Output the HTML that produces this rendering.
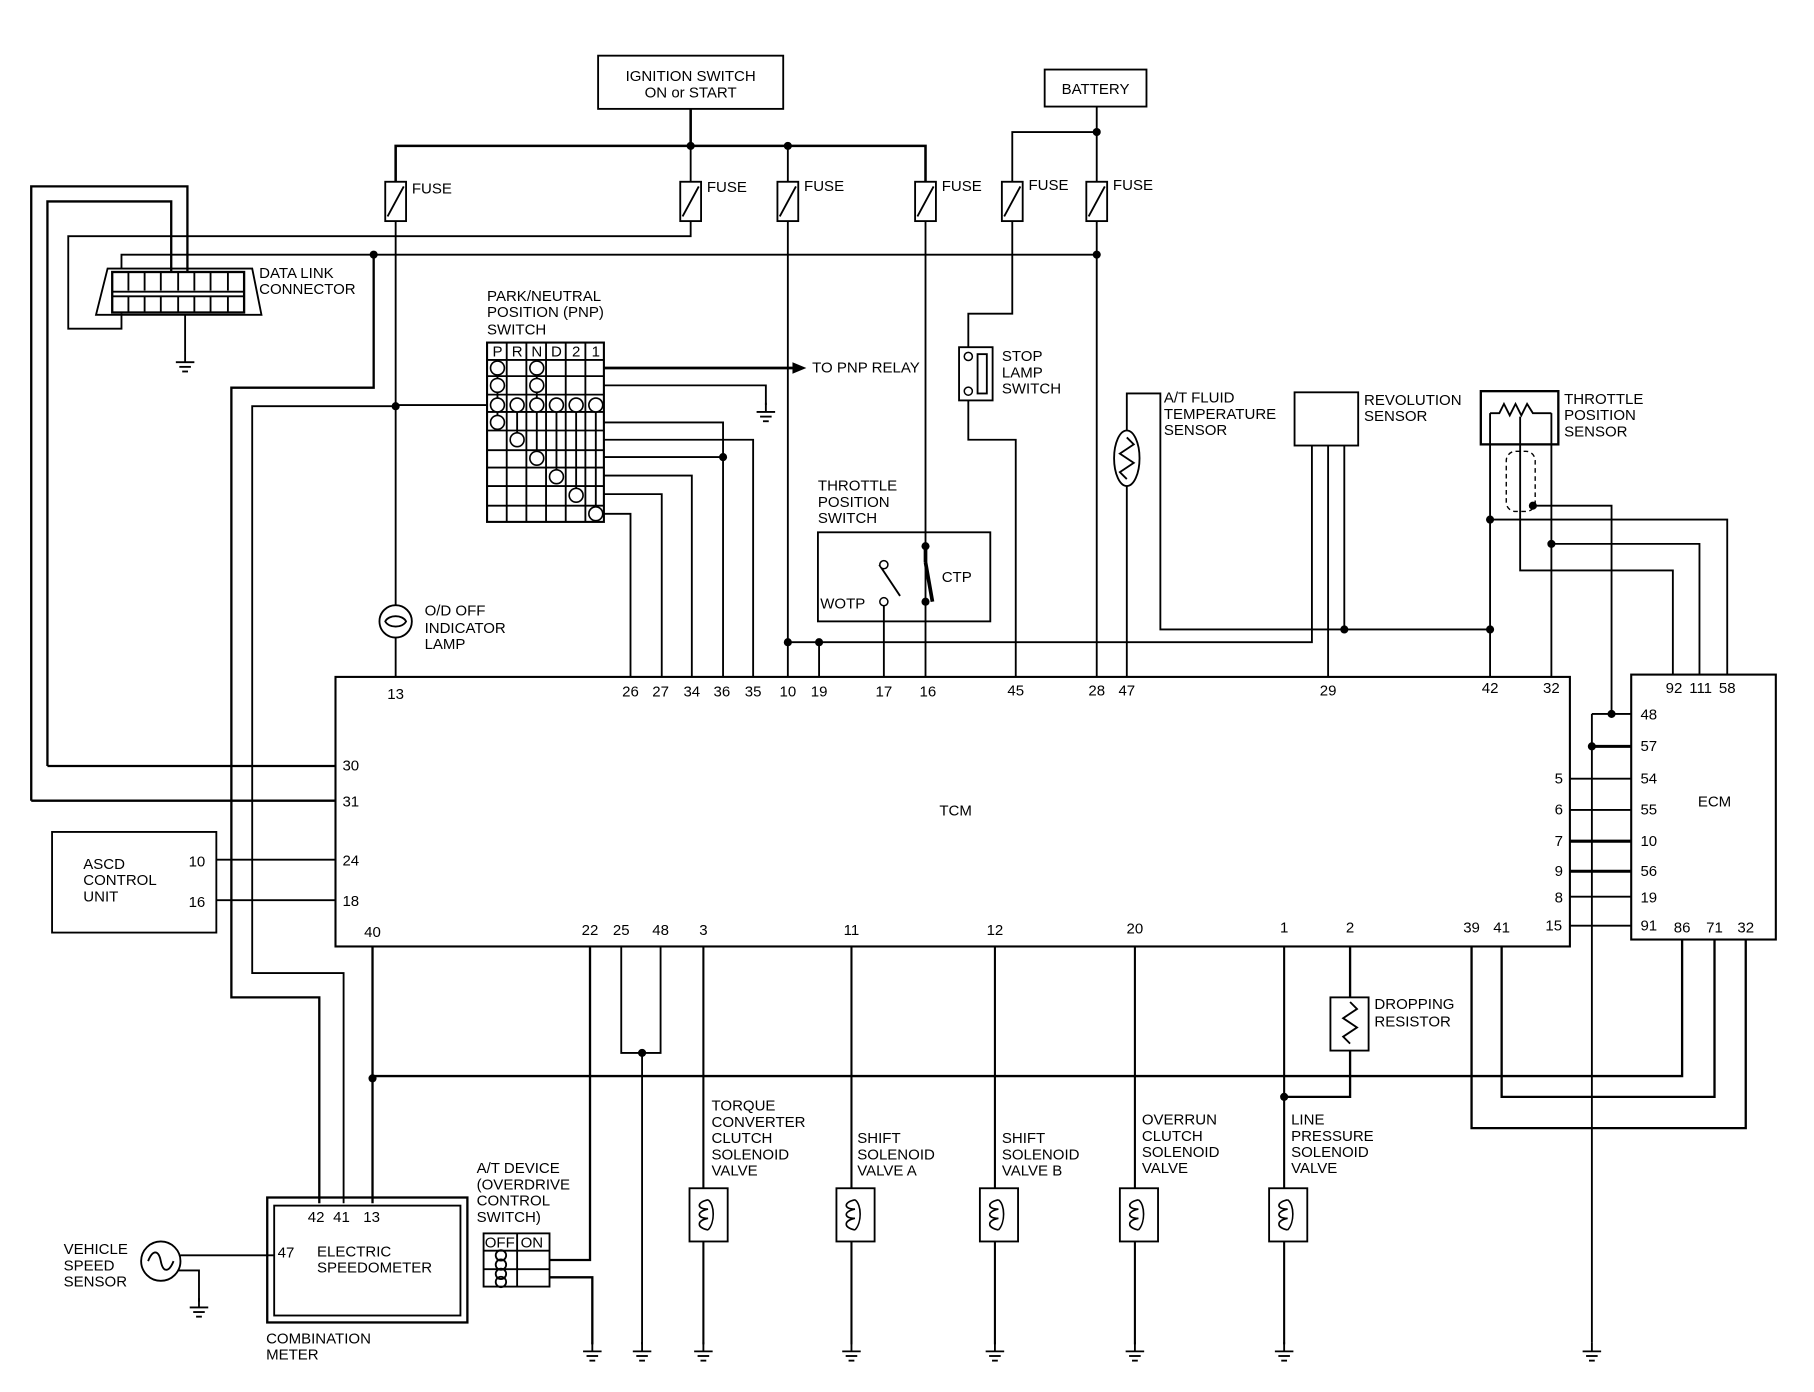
<!DOCTYPE html>
<html><head><meta charset="utf-8"><style>
html,body{margin:0;padding:0;background:#fff}
svg{display:block}
text{font-family:"Liberation Sans",sans-serif;font-size:13px;fill:#000}
</style></head><body>
<svg width="1814" height="1392" viewBox="0 0 1568 1203" xmlns="http://www.w3.org/2000/svg">
<defs>
<g id="gnd"><line x1="0" y1="0" x2="0" y2="8" stroke="#000" stroke-width="1.6"/><line x1="-8" y1="8" x2="8" y2="8" stroke="#000" stroke-width="1.6"/><line x1="-5" y1="12" x2="5" y2="12" stroke="#000" stroke-width="1.6"/><line x1="-2.5" y1="16" x2="2.5" y2="16" stroke="#000" stroke-width="1.6"/></g>
<g id="fuse"><rect x="-9" y="0" width="18" height="34" fill="#fff" stroke="#000" stroke-width="1.6"/><line x1="-7" y1="30" x2="7" y2="4" stroke="#000" stroke-width="1.6"/></g>
<g id="sol"><rect x="-16" y="0" width="33" height="46" fill="#fff" stroke="#000" stroke-width="1.6"/><path d="M0 10 C-10 12 -10 18 0 18 C-10 20 -10 26 0 26 C-10 28 -10 34 0 36" fill="none" stroke="#000" stroke-width="1.4"/><path d="M0 10 C6 14 6 30 0 36" fill="none" stroke="#000" stroke-width="1.4"/></g>
<circle id="dot" r="3.5" fill="#000"/>
</defs>
<g fill="none" stroke="#000" stroke-width="1.6">
<!-- ignition & battery -->
<rect x="517" y="48" width="160" height="46"/>
<rect x="903" y="60" width="88" height="32"/>
<path d="M597 94V126 M342 157V126H800V157" stroke-width="2.2"/>
<path d="M681 126V157 M597 126V157"/>
<path d="M948 92V157 M875 157V114H948"/>
<!-- fuse down lines -->
<path d="M597 191V204H59V284H105V271"/>
<path d="M105 232V220H948"/>
<path d="M342 191V523 M342 551V585"/>
<path d="M681 191V585"/>
<path d="M800 191V585"/>
<path d="M948 191V585"/>
<path d="M875 191V271H837V300 M837 346V380H878V585"/>
<!-- DLC -->
<path d="M93 232H218L226 272H83Z"/>
<rect x="97" y="235" width="114" height="35" stroke-width="2"/>
<path d="M97 252H211 M97 256H211"/>
<path d="M111 235V251 M125 235V251 M139 235V251 M154 235V251 M168 235V251 M182 235V251 M197 235V251 M111 256V270 M125 256V270 M139 256V270 M154 256V270 M168 256V270 M182 256V270 M197 256V270"/>
<path d="M160 272V305"/>
<path d="M27 692V161H162V235 M41 662V174H148V235 M27 692H290 M41 662H290" stroke-width="2"/>
<path d="M323 220V335H200V862H276V1040" stroke-width="2"/>
<path d="M342 351H218V841H297V1040"/>
<!-- OD lamp -->
<circle cx="342" cy="537" r="14"/>
<path d="M333 537 C336 531 348 531 351 537 C348 543 336 543 333 537Z"/>
<!-- PNP grid -->
<rect x="421" y="296" width="101" height="155" stroke-width="1.8"/>
<path d="M438 296V451 M455 296V451 M472 296V451 M489 296V451 M506 296V451"/>
<path d="M421 311H522 M421 325H522 M421 341H522 M421 356H522 M421 372H522 M421 389H522 M421 404H522 M421 420H522 M421 437H522"/>
<path d="M421 350H342 M522 318H685" />
<path d="M522 318H685" stroke-width="2.4"/>
<path d="M522 333H662V350 M522 365H625V585 M522 380H651V585 M522 395H625 M522 411H598V585 M522 427H572V585 M522 444H545V585"/>
<path d="M430 318V365 M464 318V350 M447 350V380 M464 350V395 M481 350V411 M498 350V427 M515 350V444"/>
</g>
<g fill="#fff" stroke="#000" stroke-width="1.4">
<ellipse cx="430" cy="318" rx="6" ry="6"/><ellipse cx="464" cy="318" rx="6" ry="6"/>
<ellipse cx="430" cy="333" rx="6" ry="6"/><ellipse cx="464" cy="333" rx="6" ry="6"/>
<ellipse cx="430" cy="350" rx="6" ry="6"/><ellipse cx="447" cy="350" rx="6" ry="6"/><ellipse cx="464" cy="350" rx="6" ry="6"/><ellipse cx="481" cy="350" rx="6" ry="6"/><ellipse cx="498" cy="350" rx="6" ry="6"/><ellipse cx="515" cy="350" rx="6" ry="6"/>
<ellipse cx="430" cy="365" rx="6" ry="6"/><ellipse cx="447" cy="380" rx="6" ry="6"/><ellipse cx="464" cy="396" rx="6" ry="6"/><ellipse cx="481" cy="412" rx="6" ry="6"/><ellipse cx="498" cy="428" rx="6" ry="6"/><ellipse cx="515" cy="444" rx="6" ry="6"/>
</g>
<path d="M685 313L697 318L685 323Z" fill="#000"/>
<g fill="none" stroke="#000" stroke-width="1.6">
<!-- throttle position switch -->
<rect x="707" y="460" width="149" height="77"/>
<path d="M708 585V555 M681 555H1134V385 M764 585V520"/>
<path d="M760 488L778 515"/>
<path d="M800 472L800 486 M800 486L806 520" stroke-width="3.2"/>
<!-- stop lamp -->
<rect x="829" y="300" width="29" height="46"/>
<rect x="845" y="306" width="8" height="34"/>
<!-- AT fluid -->
<path d="M974 585V420 M974 372V340H1003V544H1288"/>
<ellipse cx="974" cy="396" rx="11" ry="24"/>
<path d="M974 378L980 384L968 392L980 400L968 408L974 414"/>
<!-- revolution sensor -->
<rect x="1119" y="339" width="55" height="46"/>
<path d="M1148 385V585 M1162 385V544"/>
<!-- TPS -->
<rect x="1280" y="338" width="67" height="46" stroke-width="2"/>
<path d="M1288 384V585 M1341 384V585 M1288 357H1296L1300 349L1305 359L1310 349L1315 359L1320 349L1325 357H1341 M1288 357V384 M1341 357V384"/>
<path d="M1314 360V493H1446V583"/>
<path d="M1288 449H1493V583 M1341 470H1469V583"/>
<path d="M1325 437H1393V617"/>
<rect x="1302" y="390" width="25" height="52" rx="8" stroke-dasharray="4,3" stroke-width="1.2"/>
<!-- TCM / ECM -->
<rect x="290" y="585" width="1067" height="233" stroke-width="1.8"/>
<rect x="1410" y="583" width="125" height="229" stroke-width="1.8"/>
<path d="M1376 617H1410 M1376 617V1160"/>
<path d="M1376 645H1410" stroke-width="2.6"/>
<path d="M1357 673H1410 M1357 700H1410 M1357 775H1410 M1357 800H1410"/>
<path d="M1357 727H1410 M1357 753H1410" stroke-width="2.6"/>
<path d="M1454 812V930H322 M1482 812V948H1298V818 M1509 812V975H1272V818" stroke-width="2"/>
<!-- ASCD -->
<rect x="45" y="719" width="142" height="87"/>
<path d="M187 743H290 M187 778H290"/>
<path d="M322 818V1040" stroke-width="2"/>
<!-- combination meter -->
<rect x="231" y="1035" width="173" height="108" stroke-width="2"/>
<rect x="237" y="1042" width="161" height="95"/>
<circle cx="139" cy="1090" r="17"/>
<path d="M128 1090C132 1080 137 1080 139 1090C141 1100 146 1100 150 1090"/>
<path d="M156 1085H237 M154 1098H172V1125"/>
<!-- AT device -->
<rect x="418" y="1066" width="57" height="46"/>
<path d="M447 1066V1112 M418 1081H475 M418 1097H475"/>
<circle cx="433" cy="1085" r="4.5"/><circle cx="433" cy="1093" r="4.5"/>
<circle cx="433" cy="1101" r="4.5"/><circle cx="433" cy="1108" r="4.5"/>
<path d="M475 1089H510V818 M475 1104H512V1162" stroke-width="2"/>
<path d="M537 818V910H571V818 M555 910V1162"/>
<!-- solenoid lines -->
<path d="M608 818V1162 M736 818V1162 M860 818V1162 M981 818V1162 M1110 818V1162" stroke-width="1.8"/>
<path d="M1167 818V862 M1167 908V948H1110" stroke-width="2"/>
<rect x="1150" y="862" width="33" height="46"/>
<path d="M1167 866L1173 872L1161 880L1173 888L1161 896L1167 902"/>
</g>
<use href="#fuse" x="342" y="157"/><use href="#fuse" x="597" y="157"/><use href="#fuse" x="681" y="157"/><use href="#fuse" x="800" y="157"/><use href="#fuse" x="875" y="157"/><use href="#fuse" x="948" y="157"/>
<use href="#sol" x="612" y="1027"/><use href="#sol" x="739" y="1027"/><use href="#sol" x="863" y="1027"/><use href="#sol" x="984" y="1027"/><use href="#sol" x="1113" y="1027"/>
<use href="#gnd" x="160" y="305"/><use href="#gnd" x="662" y="348"/><use href="#gnd" x="172" y="1122"/>
<use href="#gnd" x="512" y="1160"/><use href="#gnd" x="555" y="1160"/><use href="#gnd" x="608" y="1160"/><use href="#gnd" x="736" y="1160"/><use href="#gnd" x="860" y="1160"/><use href="#gnd" x="981" y="1160"/><use href="#gnd" x="1110" y="1160"/><use href="#gnd" x="1376" y="1160"/>
<g fill="#fff" stroke="#000" stroke-width="1.3">
<circle cx="764" cy="488" r="3.5"/><circle cx="764" cy="520" r="3.5"/>
<circle cx="837" cy="308" r="3.5"/><circle cx="837" cy="338" r="3.5"/>
</g>
<use href="#dot" x="597" y="126"/><use href="#dot" x="681" y="126"/><use href="#dot" x="948" y="114"/><use href="#dot" x="323" y="220"/><use href="#dot" x="948" y="220"/>
<use href="#dot" x="342" y="351"/><use href="#dot" x="625" y="395"/><use href="#dot" x="681" y="555"/><use href="#dot" x="708" y="555"/><use href="#dot" x="800" y="472"/><use href="#dot" x="800" y="520"/>
<use href="#dot" x="1162" y="544"/><use href="#dot" x="1288" y="544"/><use href="#dot" x="1288" y="449"/><use href="#dot" x="1341" y="470"/><use href="#dot" x="1325" y="437"/>
<use href="#dot" x="1393" y="617"/><use href="#dot" x="1376" y="645"/><use href="#dot" x="322" y="932"/><use href="#dot" x="555" y="910"/><use href="#dot" x="1110" y="948"/>
<!-- text -->
<g>
<text x="597" y="70" text-anchor="middle">IGNITION SWITCH</text><text x="597" y="84" text-anchor="middle">ON or START</text>
<text x="947" y="81" text-anchor="middle">BATTERY</text>
<text x="356" y="167">FUSE</text><text x="611" y="166">FUSE</text><text x="695" y="165">FUSE</text><text x="814" y="165">FUSE</text><text x="889" y="164">FUSE</text><text x="962" y="164">FUSE</text>
<text x="224" y="240">DATA LINK</text><text x="224" y="254">CONNECTOR</text>
<text x="421" y="260">PARK/NEUTRAL</text><text x="421" y="274">POSITION (PNP)</text><text x="421" y="289">SWITCH</text>
<g font-size="11" text-anchor="middle"><text x="430" y="308">P</text><text x="447" y="308">R</text><text x="464" y="308">N</text><text x="481" y="308">D</text><text x="498" y="308">2</text><text x="515" y="308">1</text></g>
<text x="702" y="322">TO PNP RELAY</text>
<text x="866" y="312">STOP</text><text x="866" y="326">LAMP</text><text x="866" y="340">SWITCH</text>
<text x="1006" y="348">A/T FLUID</text><text x="1006" y="362">TEMPERATURE</text><text x="1006" y="376">SENSOR</text>
<text x="1179" y="350">REVOLUTION</text><text x="1179" y="364">SENSOR</text>
<text x="1352" y="349">THROTTLE</text><text x="1352" y="363">POSITION</text><text x="1352" y="377">SENSOR</text>
<text x="707" y="424">THROTTLE</text><text x="707" y="438">POSITION</text><text x="707" y="452">SWITCH</text>
<text x="709" y="526">WOTP</text><text x="814" y="503">CTP</text>
<text x="367" y="532">O/D OFF</text><text x="367" y="547">INDICATOR</text><text x="367" y="561">LAMP</text>
<g text-anchor="middle">
<text x="342" y="604">13</text><text x="545" y="602">26</text><text x="571" y="602">27</text><text x="598" y="602">34</text><text x="624" y="602">36</text><text x="651" y="602">35</text><text x="681" y="602">10</text><text x="708" y="602">19</text><text x="764" y="602">17</text><text x="802" y="602">16</text><text x="878" y="601">45</text><text x="948" y="601">28</text><text x="974" y="601">47</text><text x="1148" y="601">29</text><text x="1288" y="599">42</text><text x="1341" y="599">32</text>
<text x="322" y="810">40</text><text x="510" y="808">22</text><text x="537" y="808">25</text><text x="571" y="808">48</text><text x="608" y="808">3</text><text x="736" y="808">11</text><text x="860" y="808">12</text><text x="981" y="807">20</text><text x="1110" y="806">1</text><text x="1167" y="806">2</text><text x="1272" y="806">39</text><text x="1298" y="806">41</text><text x="1343" y="804">15</text>
<text x="1447" y="599">92</text><text x="1470" y="599">111</text><text x="1493" y="599">58</text>
<text x="1454" y="806">86</text><text x="1482" y="806">71</text><text x="1509" y="806">32</text>
<text x="826" y="705">TCM</text><text x="1482" y="697">ECM</text>
</g>
<text x="296" y="666">30</text><text x="296" y="697">31</text><text x="296" y="748">24</text><text x="296" y="783">18</text>
<g text-anchor="end"><text x="1351" y="677">5</text><text x="1351" y="704">6</text><text x="1351" y="731">7</text><text x="1351" y="757">9</text><text x="1351" y="780">8</text></g>
<text x="1418" y="622">48</text><text x="1418" y="649">57</text><text x="1418" y="677">54</text><text x="1418" y="704">55</text><text x="1418" y="731">10</text><text x="1418" y="757">56</text><text x="1418" y="780">19</text><text x="1418" y="804">91</text>
<text x="72" y="751">ASCD</text><text x="72" y="765">CONTROL</text><text x="72" y="779">UNIT</text>
<text x="163" y="749">10</text><text x="163" y="784">16</text>
<text x="266" y="1056">42</text><text x="288" y="1056">41</text><text x="314" y="1056">13</text>
<text x="240" y="1087">47</text><text x="274" y="1086">ELECTRIC</text><text x="274" y="1100">SPEEDOMETER</text>
<text x="230" y="1161">COMBINATION</text><text x="230" y="1175">METER</text>
<text x="55" y="1084">VEHICLE</text><text x="55" y="1098">SPEED</text><text x="55" y="1112">SENSOR</text>
<text x="412" y="1014">A/T DEVICE</text><text x="412" y="1028">(OVERDRIVE</text><text x="412" y="1042">CONTROL</text><text x="412" y="1056">SWITCH)</text>
<text x="419" y="1078" font-size="11">OFF</text><text x="450" y="1078" font-size="11">ON</text>
<text x="615" y="960">TORQUE</text><text x="615" y="974">CONVERTER</text><text x="615" y="988">CLUTCH</text><text x="615" y="1002">SOLENOID</text><text x="615" y="1016">VALVE</text>
<text x="741" y="988">SHIFT</text><text x="741" y="1002">SOLENOID</text><text x="741" y="1016">VALVE A</text>
<text x="866" y="988">SHIFT</text><text x="866" y="1002">SOLENOID</text><text x="866" y="1016">VALVE B</text>
<text x="987" y="972">OVERRUN</text><text x="987" y="986">CLUTCH</text><text x="987" y="1000">SOLENOID</text><text x="987" y="1014">VALVE</text>
<text x="1116" y="972">LINE</text><text x="1116" y="986">PRESSURE</text><text x="1116" y="1000">SOLENOID</text><text x="1116" y="1014">VALVE</text>
<text x="1188" y="872">DROPPING</text><text x="1188" y="887">RESISTOR</text>
</g>
</svg>
</body></html>
